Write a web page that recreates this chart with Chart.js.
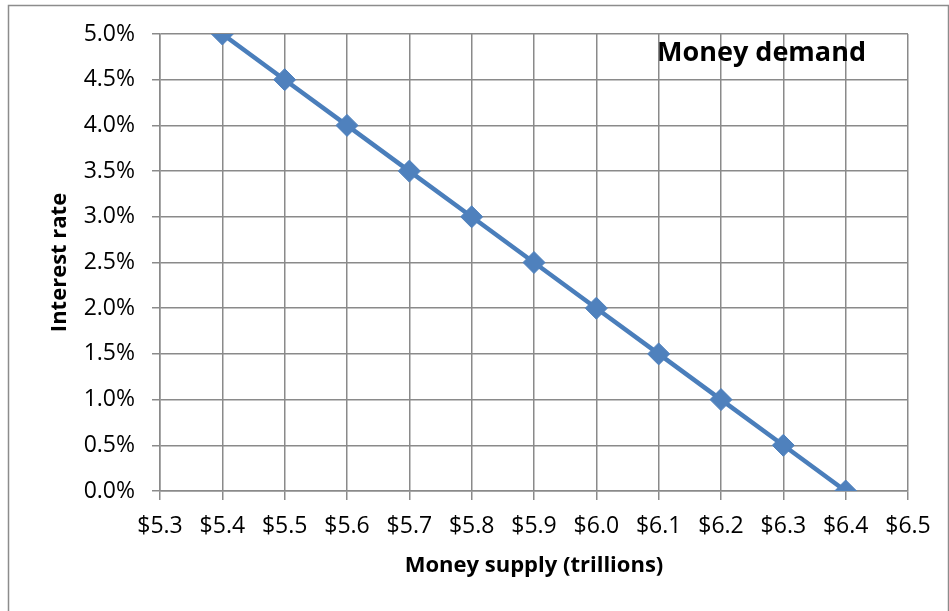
<!DOCTYPE html>
<html>
<head>
<meta charset="utf-8">
<script src="https://cdn.jsdelivr.net/npm/chart.js@4.4.1/dist/chart.umd.min.js"></script>
<style>
  html, body { margin: 0; padding: 0; background: #fff; }
  #wrap { width: 949px; height: 611px; }
</style>
</head>
<body>
<div id="wrap"><canvas id="chart" width="949" height="611"></canvas></div>
<script>
// money supply in trillions of dollars
const moneySupply = [5.4, 5.5, 5.6, 5.7, 5.8, 5.9, 6.0, 6.1, 6.2, 6.3, 6.4];
// interest rate in percent
const interestRate = [5.0, 4.5, 4.0, 3.5, 3.0, 2.5, 2.0, 1.5, 1.0, 0.5, 0.0];

const xTicks = [5.3, 5.4, 5.5, 5.6, 5.7, 5.8, 5.9, 6.0, 6.1, 6.2, 6.3, 6.4, 6.5];
const yTicks = [0, 0.5, 1.0, 1.5, 2.0, 2.5, 3.0, 3.5, 4.0, 4.5, 5.0];

const seriesName = 'Money demand';
const gridColor = '#8a8a8a';
const blue = '#4a7ebb';

Chart.defaults.font.family = '"Open Sans", "Noto Sans", sans-serif';
Chart.defaults.color = '#000';

// outer frame, like the Excel chart area border
const frame = {
  id: 'frame',
  beforeDraw(chart) {
    const ctx = chart.ctx;
    ctx.save();
    ctx.fillStyle = '#fff';
    ctx.fillRect(0, 0, chart.width, chart.height);
    ctx.strokeStyle = '#8c8c8c';
    ctx.lineWidth = 1.5;
    ctx.strokeRect(8.5, 5.5, 940, 620);
    ctx.restore();
  }
};

// legend text sitting inside the plot area
const insideLegend = {
  id: 'insideLegend',
  afterDatasetsDraw(chart) {
    const ctx = chart.ctx;
    const area = chart.chartArea;
    ctx.save();
    ctx.font = 'bold 27px "Open Sans", "Noto Sans", sans-serif';
    ctx.fillStyle = '#000';
    ctx.textAlign = 'right';
    ctx.textBaseline = 'middle';
    ctx.fillText(chart.data.datasets[0].label, area.right - 42, area.top + 19);
    ctx.restore();
  }
};

const points = moneySupply.map((x, i) => ({ x: x, y: interestRate[i] }));

new Chart(document.getElementById('chart'), {
  type: 'line',
  data: {
    datasets: [{
      label: seriesName,
      data: points,
      borderColor: blue,
      borderWidth: 4.5,
      backgroundColor: '#4f81bd',
      pointStyle: 'rectRot',
      pointRadius: 11,
      pointBorderColor: '#4f81bd',
      pointBackgroundColor: '#4f81bd',
      pointBorderWidth: 1,
      tension: 0
    }]
  },
  options: {
    responsive: false,
    animation: false,
    layout: { padding: { left: 43, top: 34, right: 41, bottom: 28 } },
    plugins: {
      legend: { display: false },
      tooltip: { enabled: false }
    },
    scales: {
      x: {
        type: 'linear',
        min: 5.3,
        max: 6.5,
        afterBuildTicks: s => { s.ticks = xTicks.map(v => ({ value: v })); },
        afterFit: s => { s.height = 92; },
        grid: { color: gridColor, lineWidth: 1.5, tickLength: 9, tickColor: gridColor },
        border: { color: gridColor, width: 1.5 },
        ticks: {
          padding: 13,
          maxRotation: 0,
          autoSkip: false,
          font: { size: 23 },
          callback: v => '$' + Number(v).toFixed(1)
        },
        title: {
          display: true,
          text: 'Money supply (trillions)',
          font: { size: 22, weight: 'bold' },
          padding: { top: 4, bottom: 4 }
        }
      },
      y: {
        min: 0,
        max: 5,
        afterBuildTicks: s => { s.ticks = yTicks.map(v => ({ value: v })); },
        afterFit: s => { s.width = 117; },
        grid: { color: gridColor, lineWidth: 1.5, tickLength: 8, tickColor: gridColor },
        border: { color: gridColor, width: 1.5 },
        ticks: {
          padding: 17,
          autoSkip: false,
          font: { size: 23 },
          callback: v => Number(v).toFixed(1) + '%'
        },
        title: {
          display: true,
          text: 'Interest rate',
          font: { size: 22, weight: 'bold' },
          padding: { top: 4, bottom: 4 }
        }
      }
    }
  },
  plugins: [frame, insideLegend]
});
</script>
</body>
</html>
